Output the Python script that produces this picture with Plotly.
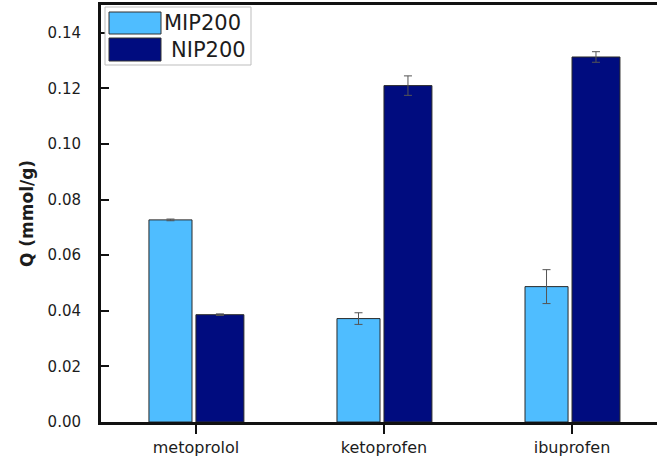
import plotly.graph_objects as go

# Adsorbed amount Q (mmol/g) per analyte for the imprinted and non-imprinted polymers
drugs = ["metoprolol", "ketoprofen", "ibuprofen"]
mip200 = [0.0727, 0.0372, 0.0487]
mip200_err = [0.0003, 0.0021, 0.0061]
nip200 = [0.0386, 0.1210, 0.1313]
nip200_err = [0.0003, 0.0035, 0.0019]
y_ticks = [0.00, 0.02, 0.04, 0.06, 0.08, 0.10, 0.12, 0.14]

W, H = 657, 459
L, R, T, B = 101, 0, 5, 37
FONT = "DejaVu Sans"
TXT = "#1c1c1c"
C_MIP = "#4FBDFF"
C_NIP = "#000C7F"

fig = go.Figure()
fig.add_trace(go.Bar(
    x=drugs, y=mip200, name="MIP200",
    offset=-0.25, width=0.229,
    marker=dict(color=C_MIP, line=dict(color="#2a2a2a", width=1)),
    error_y=dict(type="data", array=mip200_err, color="#555555", thickness=1, width=4),
))
fig.add_trace(go.Bar(
    x=drugs, y=nip200, name="NIP200",
    offset=0.0, width=0.255,
    marker=dict(color=C_NIP, line=dict(color="#2a2a2a", width=1)),
    error_y=dict(type="data", array=nip200_err, color="#555555", thickness=1, width=4),
))


def px_x(p):
    return (p - L) / (W - L - R)


def px_y(p):
    return (H - B - p) / (H - B - T)


# Hand-built legend box with wide swatches
shapes = [
    dict(type="rect", xref="paper", yref="paper",
         x0=px_x(105), x1=px_x(251), y0=px_y(65), y1=px_y(7),
         line=dict(color="#bdbdbd", width=1), fillcolor="white", layer="above"),
]
annotations = []
entries = [(fig.data[0].name, C_MIP, 12, 34, 162), (fig.data[1].name, C_NIP, 38, 61, 169)]
for name, col, y0, y1, tx in entries:
    shapes.append(dict(type="rect", xref="paper", yref="paper",
                       x0=px_x(109), x1=px_x(161), y0=px_y(y1), y1=px_y(y0),
                       line=dict(color="#333333", width=1), fillcolor=col, layer="above"))
    annotations.append(dict(xref="paper", yref="paper", x=px_x(tx), y=px_y((y0 + y1) / 2),
                            text=name, showarrow=False, xanchor="left", yanchor="middle",
                            font=dict(family=FONT, size=21, color=TXT)))

fig.update_layout(
    width=W, height=H,
    margin=dict(l=L, r=R, t=T, b=B, autoexpand=False),
    paper_bgcolor="white", plot_bgcolor="white",
    showlegend=False,
    barmode="overlay",
    shapes=shapes,
    annotations=annotations,
    font=dict(family=FONT, color=TXT),
)
fig.update_xaxes(
    type="category", range=[-0.505, 2.452],
    showline=True, linecolor="#111111", linewidth=2.5, mirror=True,
    ticks="outside", ticklen=9, tickwidth=2, tickcolor="#111111",
    showgrid=False, zeroline=False,
    tickfont=dict(family=FONT, size=16, color=TXT),
)
fig.update_yaxes(
    range=[0, 0.150], tickvals=y_ticks, tickformat=".2f",
    showline=True, linecolor="#111111", linewidth=3, mirror=False,
    ticks="inside", ticklen=8, tickwidth=2, tickcolor="#111111",
    showgrid=False, zeroline=False,
    ticklabelstandoff=14,
    tickfont=dict(family=FONT, size=15, color=TXT),
    title=dict(text="<b>Q (mmol/g)</b>", standoff=10,
               font=dict(family=FONT, size=17, color=TXT)),
)

fig.write_html("out.html")
